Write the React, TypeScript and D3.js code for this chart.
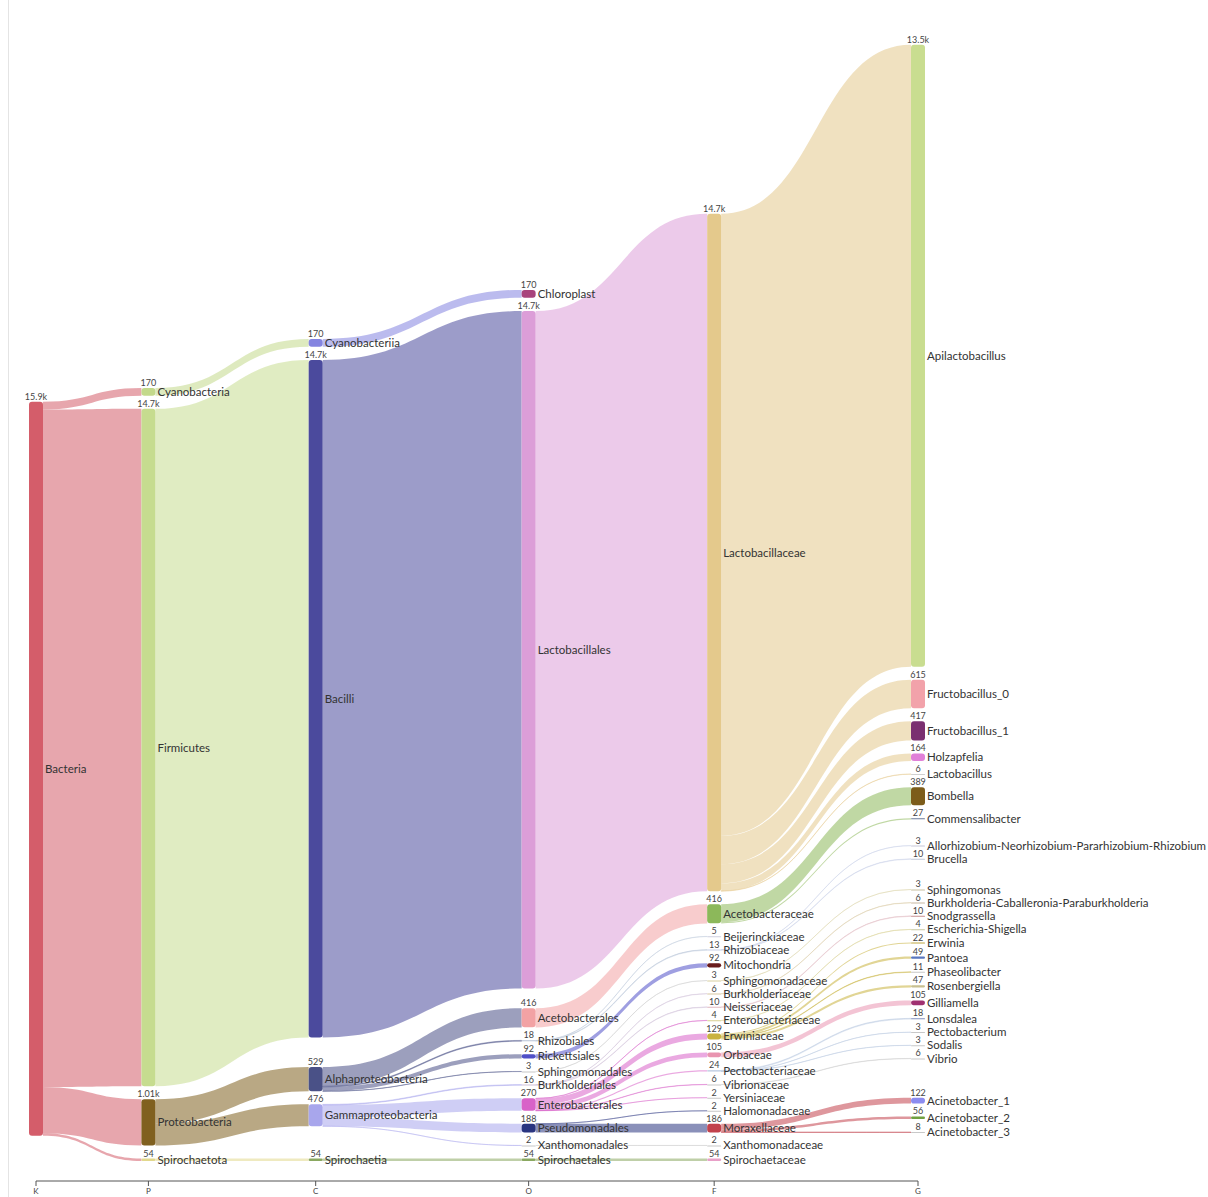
import React from "react";
import * as d3 from "d3";

// ---------- data ----------
const rankLetters = ["K", "P", "C", "O", "F", "G"];

const kingdomNames = ["Bacteria"];
const kingdomParents = [""];
const kingdomReads = [15931];
const kingdomColors = ["#d45d6a"];

const phylumNames = ["Cyanobacteria", "Firmicutes", "Proteobacteria", "Spirochaetota"];
const phylumParents = ["Bacteria", "Bacteria", "Bacteria", "Bacteria"];
const phylumReads = [170, 14702, 1005, 54];
const phylumColors = ["#c3d98b", "#c6dc8f", "#80601f", "#e2d88c"];

const classNames = ["Cyanobacteriia", "Bacilli", "Alphaproteobacteria", "Gammaproteobacteria", "Spirochaetia"];
const classParents = ["Cyanobacteria", "Firmicutes", "Proteobacteria", "Proteobacteria", "Spirochaetota"];
const classReads = [170, 14702, 529, 476, 54];
const classColors = ["#8484e0", "#4b4a9d", "#4a5187", "#a8a6ec", "#8aa860"];

const orderNames = ["Chloroplast", "Lactobacillales", "Acetobacterales", "Rhizobiales", "Rickettsiales", "Sphingomonadales", "Burkholderiales", "Enterobacterales", "Pseudomonadales", "Xanthomonadales", "Spirochaetales"];
const orderParents = ["Cyanobacteriia", "Bacilli", "Alphaproteobacteria", "Alphaproteobacteria", "Alphaproteobacteria", "Alphaproteobacteria", "Gammaproteobacteria", "Gammaproteobacteria", "Gammaproteobacteria", "Gammaproteobacteria", "Spirochaetia"];
const orderReads = [170, 14702, 416, 18, 92, 3, 16, 270, 188, 2, 54];
const orderColors = ["#a8437c", "#dc9ed8", "#f2a2a4", "#b8c4d8", "#5050c8", "#c8c8c8", "#d0c0d8", "#d862c8", "#2a3580", "#c8c8c8", "#8aa860"];

const familyNames = ["Lactobacillaceae", "Acetobacteraceae", "Beijerinckiaceae", "Rhizobiaceae", "Mitochondria", "Sphingomonadaceae", "Burkholderiaceae", "Neisseriaceae", "Enterobacteriaceae", "Erwiniaceae", "Orbaceae", "Pectobacteriaceae", "Vibrionaceae", "Yersiniaceae", "Halomonadaceae", "Moraxellaceae", "Xanthomonadaceae", "Spirochaetaceae"];
const familyParents = ["Lactobacillales", "Acetobacterales", "Rhizobiales", "Rhizobiales", "Rickettsiales", "Sphingomonadales", "Burkholderiales", "Burkholderiales", "Enterobacterales", "Enterobacterales", "Enterobacterales", "Enterobacterales", "Enterobacterales", "Enterobacterales", "Pseudomonadales", "Pseudomonadales", "Xanthomonadales", "Spirochaetales"];
const familyReads = [14702, 416, 5, 13, 92, 3, 6, 10, 4, 129, 105, 24, 6, 2, 2, 186, 2, 54];
const familyColors = ["#e4c98c", "#8cb85a", "#d0d0e0", "#c8d0e8", "#6a1c1c", "#d8d0a0", "#d8c8a0", "#e0b8c0", "#d8d090", "#c9b23e", "#e994b0", "#b8c8e0", "#c8c8c8", "#c8c8c8", "#c8c8c8", "#c2424c", "#c8c8c8", "#e8a0c8"];

const genusNames = ["Apilactobacillus", "Fructobacillus_0", "Fructobacillus_1", "Holzapfelia", "Lactobacillus", "Bombella", "Commensalibacter", "Allorhizobium-Neorhizobium-Pararhizobium-Rhizobium", "Brucella", "Sphingomonas", "Burkholderia-Caballeronia-Paraburkholderia", "Snodgrassella", "Escherichia-Shigella", "Erwinia", "Pantoea", "Phaseolibacter", "Rosenbergiella", "Gilliamella", "Lonsdalea", "Pectobacterium", "Sodalis", "Vibrio", "Acinetobacter_1", "Acinetobacter_2", "Acinetobacter_3"];
const genusParents = ["Lactobacillaceae", "Lactobacillaceae", "Lactobacillaceae", "Lactobacillaceae", "Lactobacillaceae", "Acetobacteraceae", "Acetobacteraceae", "Rhizobiaceae", "Rhizobiaceae", "Sphingomonadaceae", "Burkholderiaceae", "Neisseriaceae", "Enterobacteriaceae", "Erwiniaceae", "Erwiniaceae", "Erwiniaceae", "Erwiniaceae", "Orbaceae", "Pectobacteriaceae", "Pectobacteriaceae", "Pectobacteriaceae", "Vibrionaceae", "Moraxellaceae", "Moraxellaceae", "Moraxellaceae"];
const genusReads = [13500, 615, 417, 164, 6, 389, 27, 3, 10, 3, 6, 10, 4, 22, 49, 11, 47, 105, 18, 3, 3, 6, 122, 56, 8];
const genusColors = ["#c9dd90", "#f2a2aa", "#7a2f70", "#e080d8", "#d0d0d0", "#7c5c1a", "#6a7a9a", "#c8c8d8", "#c0c8d8", "#c8c0a0", "#c8b8a0", "#c89090", "#c8c8a0", "#c0a840", "#5a78c0", "#c8c8c8", "#c8c090", "#a03070", "#8090c0", "#c8c8c8", "#c8c8c8", "#c8c8c8", "#8c8cf0", "#70a040", "#c8c8c8"];

// ---------- layout ----------
type SNode = {
  id: string; name: string; layer: number; value: number; color: string; phantom: boolean;
  sourceLinks: SLink[]; targetLinks: SLink[]; x0: number; x1: number; y0: number; y1: number;
};
type SLink = { source: SNode; target: SNode; value: number; width: number; y0: number; y1: number; phantom: boolean };

const levels = [
  { names: kingdomNames, parents: kingdomParents, reads: kingdomReads, colors: kingdomColors },
  { names: phylumNames, parents: phylumParents, reads: phylumReads, colors: phylumColors },
  { names: classNames, parents: classParents, reads: classReads, colors: classColors },
  { names: orderNames, parents: orderParents, reads: orderReads, colors: orderColors },
  { names: familyNames, parents: familyParents, reads: familyReads, colors: familyColors },
  { names: genusNames, parents: genusParents, reads: genusReads, colors: genusColors },
];

function buildGraph() {
  const links: SLink[] = [];
  const columns: SNode[][] = [];
  const mk = (id: string, name: string, layer: number, value: number, color: string, phantom: boolean): SNode =>
    ({ id, name, layer, value, color, phantom, sourceLinks: [], targetLinks: [], x0: 0, x1: 0, y0: 0, y1: 0 });
  columns.push(levels[0].names.map((nm, i) => mk(nm, nm, 0, levels[0].reads[i], levels[0].colors[i], false)));
  for (let l = 1; l < levels.length; l++) {
    const lv = levels[l];
    const col: SNode[] = [];
    for (const parent of columns[l - 1]) {
      const kids: SNode[] = [];
      if (!parent.phantom) {
        lv.names.forEach((nm, i) => {
          if (lv.parents[i] === parent.name) kids.push(mk(nm, nm, l, lv.reads[i], lv.colors[i], false));
        });
      }
      // unclassified reads continue invisibly to the last rank
      if (kids.length === 0) kids.push(mk(parent.id + "~" + l, "", l, parent.value, parent.color, true));
      for (const k of kids) {
        const link: SLink = { source: parent, target: k, value: k.value, width: 0, y0: 0, y1: 0, phantom: k.phantom };
        links.push(link);
        parent.sourceLinks.push(link);
        k.targetLinks.push(link);
        col.push(k);
      }
    }
    columns.push(col);
  }
  return { links, columns };
}

function layoutSankey(columns: SNode[][], links: SLink[], top: number, bottom: number, py: number, iterations: number) {
  const ky = d3.min(columns, (c) => (bottom - top - (c.length - 1) * py) / d3.sum(c, (n) => n.value)) as number;
  for (const l of links) l.width = l.value * ky;
  for (const col of columns) col.forEach((n, i) => { n.y0 = top + i; n.y1 = n.y0 + n.value * ky; });
  const center = (n: SNode) => (n.y0 + n.y1) / 2;
  const move = (n: SNode, dy: number) => { n.y0 += dy; n.y1 += dy; };
  const resolveCol = (nodes: SNode[]) => {
    let y = top;
    let node = nodes[0];
    for (let i = 0; i < nodes.length; ++i) {
      node = nodes[i];
      const dy = y - node.y0;
      if (dy > 0) move(node, dy);
      y = node.y1 + py;
    }
    let dy = y - py - bottom;
    if (dy > 0) {
      move(node, -dy);
      y = node.y0;
      for (let i = nodes.length - 2; i >= 0; --i) {
        node = nodes[i];
        dy = node.y1 + py - y;
        if (dy > 0) move(node, -dy);
        y = node.y0;
      }
    }
  };
  const towardSources = (n: SNode, alpha: number) => {
    if (!n.targetLinks.length) return;
    const y = d3.sum(n.targetLinks, (l) => center(l.source) * l.value) / d3.sum(n.targetLinks, (l) => l.value);
    move(n, (y - center(n)) * alpha);
  };
  const towardTargets = (n: SNode, alpha: number) => {
    if (!n.sourceLinks.length) return;
    const y = d3.sum(n.sourceLinks, (l) => center(l.target) * l.value) / d3.sum(n.sourceLinks, (l) => l.value);
    move(n, (y - center(n)) * alpha);
  };

  columns.forEach(resolveCol);
  let alpha = 1;
  for (let it = 0; it < iterations; ++it) {
    alpha *= 0.99;
    for (const c of columns.slice().reverse()) { c.forEach((n) => towardTargets(n, alpha)); resolveCol(c); }
    for (const c of columns) { c.forEach((n) => towardSources(n, alpha)); resolveCol(c); }
  }
  // centre the root on its children
  columns[0].forEach((n) => towardTargets(n, 1));
  resolveCol(columns[0]);

  for (const col of columns) {
    for (const n of col) {
      n.sourceLinks.sort((a, b) => a.target.y0 - b.target.y0);
      n.targetLinks.sort((a, b) => a.source.y0 - b.source.y0);
      let a = n.y0, b = n.y0;
      for (const l of n.sourceLinks) { l.y0 = a; a += l.width; }
      for (const l of n.targetLinks) { l.y1 = b; b += l.width; }
    }
  }
}

const W = 1208, H = 1197;
const NODE_W = 14;
const TOP = 24, BOTTOM = 1161, PAD = 13;
const LEFT = 29, RIGHT_X0 = 911;
const AXIS_Y = 1181;
const FONT = "Lato, 'Open Sans', sans-serif";

export default function App() {
  const { links, columns } = buildGraph();

  // column x positions: spacing scaled by the longest label in each column
  const weights = levels.slice(0, -1).map((lv) => (d3.max(lv.names, (n) => n.length) as number) + 4.3);
  const cum = [0, ...d3.cumsum(weights)];
  const xScale = d3.scaleLinear().domain([0, cum[cum.length - 1]]).range([LEFT, RIGHT_X0]);
  columns.forEach((col, i) => col.forEach((n) => { n.x0 = xScale(cum[i]); n.x1 = n.x0 + NODE_W; }));

  layoutSankey(columns, links, TOP, BOTTOM, PAD, 24);

  const fmt = d3.format(".3~s");
  const linkGen = d3.linkHorizontal<any, [number, number]>().source((d: any) => d[0]).target((d: any) => d[1]);
  const ribbon = (l: SLink) => {
    const topEdge = linkGen([[l.source.x1, l.y0], [l.target.x0, l.y1]] as any) || "";
    const botEdge = linkGen([[l.target.x0, l.y1 + l.width], [l.source.x1, l.y0 + l.width]] as any) || "";
    return topEdge + botEdge.replace(/^M/, "L") + "Z";
  };
  const visibleNodes = columns.flat().filter((n) => !n.phantom);
  const visibleLinks = links.filter((l) => !l.phantom).sort((a, b) => b.width - a.width);
  const colCenters = columns.map((c) => c[0].x0 + NODE_W / 2);

  return (
    <svg width={W} height={H} style={{ position: "absolute", left: 0, top: 0, background: "#fff" }} fontFamily={FONT}>
      <line x1={8.5} x2={8.5} y1={0} y2={H} stroke="#e4e4e4" />
      <g>
        {visibleLinks.map((l, i) => (
          <path
            key={i}
            d={ribbon(l)}
            fill={l.source.color}
            fillOpacity={0.55}
            stroke={l.source.color}
            strokeOpacity={0.55}
            strokeWidth={l.width < 1 ? 0.7 : 0}
          />
        ))}
      </g>
      <g>
        {visibleNodes.map((n, i) => {
          const h = Math.max(1, n.y1 - n.y0);
          return <rect key={i} x={n.x0} y={n.y0} width={NODE_W} height={h} rx={Math.min(3, h / 2)} fill={n.color} />;
        })}
      </g>
      <g>
        {visibleNodes.map((n, i) => (
          <g key={i}>
            <text x={n.x0 + NODE_W / 2} y={n.y0 - 2} textAnchor="middle" fontSize={9} fill="#444">{fmt(n.value)}</text>
            <text x={n.x1 + 2} y={(n.y0 + n.y1) / 2} dy="0.35em" fontSize={11.5} fill="#333">{n.name}</text>
          </g>
        ))}
      </g>
      <g>
        <line x1={colCenters[0]} x2={colCenters[colCenters.length - 1]} y1={AXIS_Y} y2={AXIS_Y} stroke="#555" />
        {colCenters.map((x, i) => (
          <g key={i}>
            <line x1={x} x2={x} y1={AXIS_Y} y2={AXIS_Y + 5} stroke="#555" />
            <text x={x} y={AXIS_Y + 13} textAnchor="middle" fontSize={8} fill="#444">{rankLetters[i]}</text>
          </g>
        ))}
      </g>
    </svg>
  );
}
